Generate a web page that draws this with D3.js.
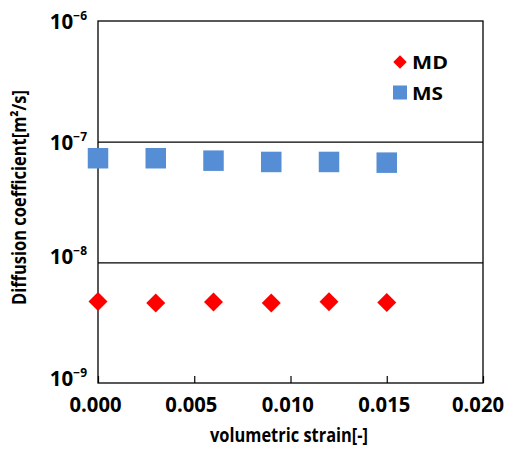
<!DOCTYPE html>
<html>
<head>
<meta charset="utf-8">
<script src="https://cdn.jsdelivr.net/npm/d3@7"></script>
<style>
  html, body { margin: 0; padding: 0; background: #fff; }
  svg { display: block; }
  text { font-family: "Open Sans", "Noto Sans", sans-serif; font-weight: bold; fill: #000; }
</style>
</head>
<body>
<svg id="chart" width="508" height="449"></svg>
<script>
// ---- data ----
const strain = [0.000, 0.003, 0.006, 0.009, 0.012, 0.015];
const mdValues = [4.73e-9, 4.60e-9, 4.69e-9, 4.60e-9, 4.71e-9, 4.65e-9];
const msValues = [7.29e-8, 7.29e-8, 6.96e-8, 6.79e-8, 6.79e-8, 6.70e-8];
const xTicks = [0.000, 0.005, 0.010, 0.015, 0.020];
const yTicks = [1e-9, 1e-8, 1e-7, 1e-6];
const yTickExponents = ["−9", "−8", "−7", "−6"];
const seriesNames = ["MD", "MS"];
const xTitle = "volumetric strain[-]";
const yTitle = "Diffusion coefficient[m²/s]";

// ---- layout ----
const svg = d3.select("#chart");
const L = 98, R = 483, T = 21, B = 383;
const x = d3.scaleLinear().domain([0, 0.02]).range([L, R]);
const y = d3.scaleLog().domain([1e-9, 1e-6]).range([B, T]);
const yLabelNudge = [2.7, 0.7, 8.3, 7]; // baseline offset from tick
const xLabelNudge = [-3, -3.4, -3.2, -3, -5.5];

// gridlines (major decades inside)
svg.append("g")
  .attr("transform", `translate(${L},0)`)
  .call(d3.axisLeft(y).tickValues([1e-8, 1e-7]).tickSize(-(R - L)).tickFormat(""))
  .call(g => g.select(".domain").remove())
  .call(g => g.selectAll("line").attr("stroke", "#000").attr("stroke-width", 1.2));

// x axis with inward ticks
const xAxis = svg.append("g")
  .attr("transform", `translate(0,${B})`)
  .call(d3.axisBottom(x).tickValues(xTicks).tickSize(-7).tickFormat(d3.format(".3f")));
xAxis.select(".domain").remove();
xAxis.selectAll("line").attr("stroke", "#000").attr("stroke-width", 1.2);
xAxis.selectAll("text")
  .attr("y", 29.3).attr("dy", null)
  .attr("x", (d, i) => xLabelNudge[i])
  .attr("font-size", 20.5)
  .attr("textLength", 52).attr("lengthAdjust", "spacingAndGlyphs")
  .style("font-family", "'Open Sans', sans-serif").style("font-weight", "bold")
  .attr("fill", "#000");

// frame
svg.append("rect")
  .attr("x", L).attr("y", T).attr("width", R - L).attr("height", B - T)
  .attr("fill", "none").attr("stroke", "#000").attr("stroke-width", 1.3);

// y axis labels: 10^n
const yAxis = svg.append("g")
  .attr("transform", `translate(${L},0)`)
  .call(d3.axisLeft(y).tickValues(yTicks).tickSize(0).tickFormat(""));
yAxis.select(".domain").remove();
yAxis.selectAll(".tick").each(function(d, i) {
  const t = d3.select(this).select("text")
    .attr("x", -11).attr("dy", null).attr("y", yLabelNudge[i])
    .attr("text-anchor", "end").attr("fill", "#000");
  t.append("tspan").attr("font-size", 20.5).text("10");
  t.append("tspan").attr("font-size", 12).attr("dy", -9).text(yTickExponents[i]);
});

// MS squares
const sq = 20.5;
svg.append("g").selectAll("rect")
  .data(strain.map((s, i) => ({ s, v: msValues[i] })))
  .join("rect")
  .attr("x", d => x(d.s) - sq / 2).attr("y", d => y(d.v) - sq / 2)
  .attr("width", sq).attr("height", sq)
  .attr("fill", "#558ED5");

// MD diamonds
const dia = d3.symbol().type(d3.symbolSquare).size(13.4 * 13.4);
svg.append("g").selectAll("path")
  .data(strain.map((s, i) => ({ s, v: mdValues[i] })))
  .join("path")
  .attr("d", dia)
  .attr("transform", d => `translate(${x(d.s)},${y(d.v)}) rotate(45)`)
  .attr("fill", "#FF0000");

// legend
const leg = svg.append("g");
leg.append("path")
  .attr("d", d3.symbol().type(d3.symbolSquare).size(9.5 * 9.5))
  .attr("transform", "translate(400,62) rotate(45)")
  .attr("fill", "#FF0000");
leg.append("rect").attr("x", 393).attr("y", 85.5).attr("width", 14).attr("height", 14)
  .attr("fill", "#558ED5");
leg.append("text").attr("x", 412).attr("y", 69).attr("font-size", 17.5)
  .attr("textLength", 36).attr("lengthAdjust", "spacingAndGlyphs").text(seriesNames[0]);
leg.append("text").attr("x", 412).attr("y", 99.5).attr("font-size", 17.5)
  .attr("textLength", 31).attr("lengthAdjust", "spacingAndGlyphs").text(seriesNames[1]);

// axis titles
svg.append("text")
  .attr("x", 289).attr("y", 441.7).attr("text-anchor", "middle")
  .attr("font-size", 19).attr("textLength", 158).attr("lengthAdjust", "spacingAndGlyphs")
  .text(xTitle);
svg.append("text")
  .attr("transform", "translate(26,197.5) rotate(-90)")
  .attr("text-anchor", "middle")
  .attr("font-size", 19).attr("textLength", 215).attr("lengthAdjust", "spacingAndGlyphs")
  .text(yTitle);
</script>
</body>
</html>
